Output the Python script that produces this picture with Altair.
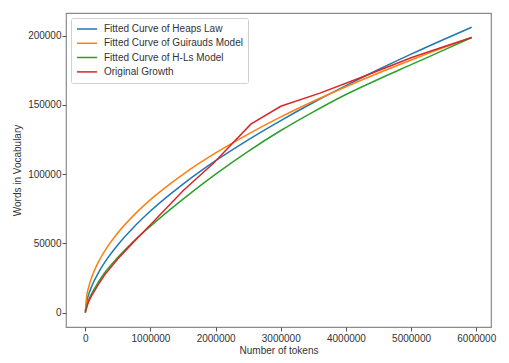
import altair as alt
import pandas as pd

# ---- data ----
series_names = [
    "Fitted Curve of Heaps Law",
    "Fitted Curve of Guirauds Model",
    "Fitted Curve of H-Ls Model",
    "Original Growth",
]
series_colors = ["#1f77b4", "#ff7f0e", "#2ca02c", "#d62728"]

fit_tokens = [0, 20000, 50000, 100000, 200000, 300000, 500000, 750000, 1000000,
              1500000, 2000000, 2500000, 3000000, 3500000, 4000000, 4500000,
              5000000, 5500000, 5930000]
heaps = [0, 7600, 12900, 19300, 28800, 36500, 49100, 62100, 73400, 92800, 109700,
         124800, 138700, 151700, 163900, 175500, 186600, 197200, 206000]
guiraud = [0, 11500, 18200, 25800, 36500, 44700, 57700, 70600, 81600, 99900, 115300,
           128900, 141300, 152600, 163100, 173000, 182400, 191300, 198600]
hls = [0, 4500, 9000, 14000, 22000, 29000, 40000, 52000, 62500, 82000, 100000,
       116500, 131500, 145000, 157500, 168500, 179000, 189500, 198600]

orig_tokens = [0, 20000, 50000, 100000, 200000, 300000, 500000, 750000, 1000000,
               1500000, 1970000, 2540000, 3000000, 3600000, 4190000, 5000000,
               5500000, 5930000]
orig = [1000, 3500, 8000, 12500, 20500, 27500, 39000, 51500, 63500, 88000, 108000,
        136100, 149000, 158500, 169000, 184000, 192000, 198600]

x_ticks = [0, 1000000, 2000000, 3000000, 4000000, 5000000, 6000000]
y_ticks = [0, 50000, 100000, 150000, 200000]

fit_rows = []
for name, vals in zip(series_names[:3], [heaps, guiraud, hls]):
    for t, v in zip(fit_tokens, vals):
        fit_rows.append({"tokens": t, "words": v, "series": name})
fit_df = pd.DataFrame(fit_rows)
orig_df = pd.DataFrame({"tokens": orig_tokens, "words": orig, "series": series_names[3]})

x_enc = alt.X(
    "tokens:Q",
    scale=alt.Scale(domain=[-296500, 6226500], nice=False, zero=False),
    axis=alt.Axis(values=x_ticks, format="d", title="Number of tokens"),
)
y_enc = alt.Y(
    "words:Q",
    scale=alt.Scale(domain=[-10300, 216300], nice=False, zero=False),
    axis=alt.Axis(values=y_ticks, format="d", title="Words in Vocabulary", titleX=-44),
)
color_enc = alt.Color(
    "series:N",
    scale=alt.Scale(domain=series_names, range=series_colors),
    legend=alt.Legend(
        title=None,
        orient="top-left",
        offset=5,
        symbolType="stroke",
        symbolSize=400,
        symbolStrokeWidth=1.5,
        labelFontSize=10,
        labelColor="#333333",
        labelOffset=6,
        padding=5,
        rowPadding=2.3,
        clipHeight=12,
        strokeColor="#d0d0d0",
        fillColor="white",
        cornerRadius=2,
    ),
)

fit = alt.Chart(fit_df).mark_line(strokeWidth=1.5, interpolate="monotone").encode(
    x=x_enc, y=y_enc, color=color_enc
)
original = alt.Chart(orig_df).mark_line(strokeWidth=1.5).encode(
    x=x_enc, y=y_enc, color=color_enc
)

chart = (
    alt.layer(fit, original)
    .properties(
        width=493,
        height=347,
        autosize=alt.AutoSizeParams(type="fit", contains="padding"),
    )
    .configure(padding={"left": 4, "top": 5, "right": 7, "bottom": 0}, font="Liberation Sans")
    .configure_view(stroke="#8a8a8a", strokeWidth=1.2)
    .configure_axis(
        domain=False,
        grid=False,
        tickColor="#555555",
        tickSize=4,
        labelFontSize=10,
        labelColor="#333333",
        labelPadding=1,
        titleFontSize=10,
        titleColor="#333333",
        titleFontWeight="normal",
    )
    .configure_axisX(titlePadding=2, labelPadding=2)
)

chart.save("out.html", embed_options={"renderer": "svg", "actions": False})
